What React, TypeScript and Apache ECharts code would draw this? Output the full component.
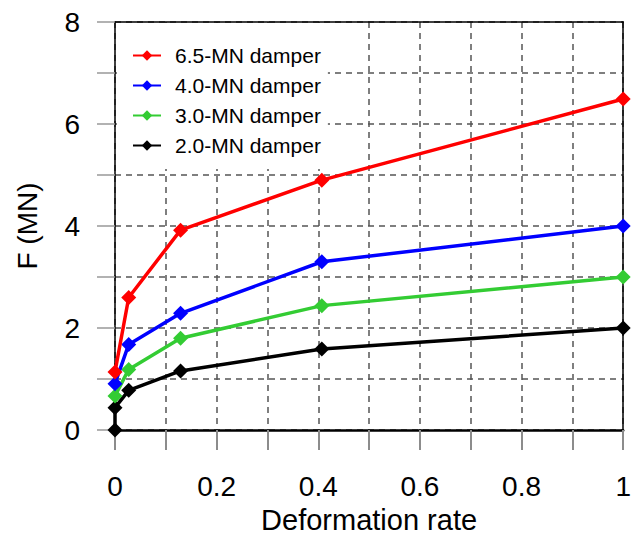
import React, { useEffect, useRef } from "react";
import * as echarts from "echarts";

const xRates = [0, 0.027, 0.129, 0.407, 1];
const seriesNames = ["6.5-MN damper", "4.0-MN damper", "3.0-MN damper", "2.0-MN damper"];
const seriesColors = ["#ff0000", "#0000ff", "#33cc33", "#000000"];
const red65 = [1.14, 2.6, 3.92, 4.9, 6.49];
const blue40 = [0.91, 1.68, 2.29, 3.3, 4.0];
const green30 = [0.67, 1.19, 1.8, 2.44, 3.0];
const blackX = [0, 0, 0.027, 0.129, 0.407, 1];
const black20 = [0, 0.44, 0.78, 1.16, 1.59, 2.0];
const xTickLabels = ["0", "0.2", "0.4", "0.6", "0.8", "1"];
const yTickLabels = ["0", "2", "4", "6", "8"];

const FONT = "'Liberation Sans', Arial, sans-serif";

export default function App() {
  const ref = useRef<HTMLDivElement>(null);
  useEffect(() => {
    if (!ref.current) return;
    const chart = echarts.init(ref.current, null, { renderer: "svg" });
    const pair = (xs: number[], ys: number[]) => xs.map((x, i) => [x, ys[i]]);
    const allData = [pair(xRates, red65), pair(xRates, blue40), pair(xRates, green30), pair(blackX, black20)];
    const split = {
      show: true,
      lineStyle: { color: "#555555", width: 1.5, type: [6, 5] as any },
    };
    chart.setOption({
      animation: false,
      backgroundColor: "#ffffff",
      grid: { left: 115, right: 7, top: 22, bottom: 106 },
      legend: {
        orient: "vertical",
        left: 117,
        top: 23,
        padding: [22, 7, 13, 15],
        backgroundColor: "#ffffff",
        itemWidth: 28,
        itemHeight: 13,
        itemGap: 9,
        data: seriesNames,
        textStyle: {
          fontFamily: FONT,
          fontSize: 21,
          lineHeight: 21,
          color: "#000",
          padding: [0, 0, 0, 9],
        },
      },
      xAxis: [
        {
          type: "value",
          position: "bottom",
          min: 0,
          max: 1,
          interval: 0.1,
          name: "Deformation rate",
          nameLocation: "middle",
          nameGap: 74,
          nameTextStyle: { fontFamily: FONT, fontSize: 29, color: "#000" },
          axisLine: { show: true, onZero: false, lineStyle: { color: "#000", width: 2.5 } },
          axisTick: { show: true, inside: false, length: 20, lineStyle: { color: "#8c8c8c", width: 2 } },
          axisLabel: {
            margin: 42,
            fontFamily: FONT,
            fontSize: 28,
            color: "#000",
            formatter: (v: number) => {
              const k = Math.round(v * 10);
              return k % 2 === 0 ? xTickLabels[k / 2] : "";
            },
          },
          splitLine: split,
        },
        {
          type: "value",
          position: "top",
          min: 0,
          max: 1,
          axisLine: { show: true, onZero: false, lineStyle: { color: "#000", width: 1.5 } },
          axisTick: { show: false },
          axisLabel: { show: false },
          splitLine: { show: false },
        },
      ],
      yAxis: [
        {
          type: "value",
          min: 0,
          max: 8,
          interval: 1,
          name: "F (MN)",
          nameLocation: "middle",
          nameGap: 74,
          nameTextStyle: { fontFamily: FONT, fontSize: 28, color: "#000" },
          axisLine: { show: true, onZero: false, lineStyle: { color: "#000", width: 1.5 } },
          axisTick: { show: true, length: 18, lineStyle: { color: "#999999", width: 1.5 } },
          axisLabel: {
            margin: 35,
            fontFamily: FONT,
            fontSize: 28,
            color: "#000",
            formatter: (v: number) => (Math.round(v) % 2 === 0 ? yTickLabels[Math.round(v) / 2] : ""),
          },
          splitLine: split,
        },
        {
          type: "value",
          position: "right",
          min: 0,
          max: 8,
          axisLine: { show: true, onZero: false, lineStyle: { color: "#000", width: 1.5 } },
          axisTick: { show: false },
          axisLabel: { show: false },
          splitLine: { show: false },
        },
      ],
      series: seriesNames.map((name, i) => ({
        name,
        type: "line",
        data: allData[i],
        symbol: "diamond",
        symbolSize: 15,
        color: seriesColors[i],
        itemStyle: { color: seriesColors[i] },
        lineStyle: { color: seriesColors[i], width: 3.5 },
        z: 10 - i,
      })),
    });
    return () => chart.dispose();
  }, []);
  return (
    <div
      ref={ref}
      style={{ position: "fixed", left: 0, top: 0, width: 634, height: 539 }}
    />
  );
}
